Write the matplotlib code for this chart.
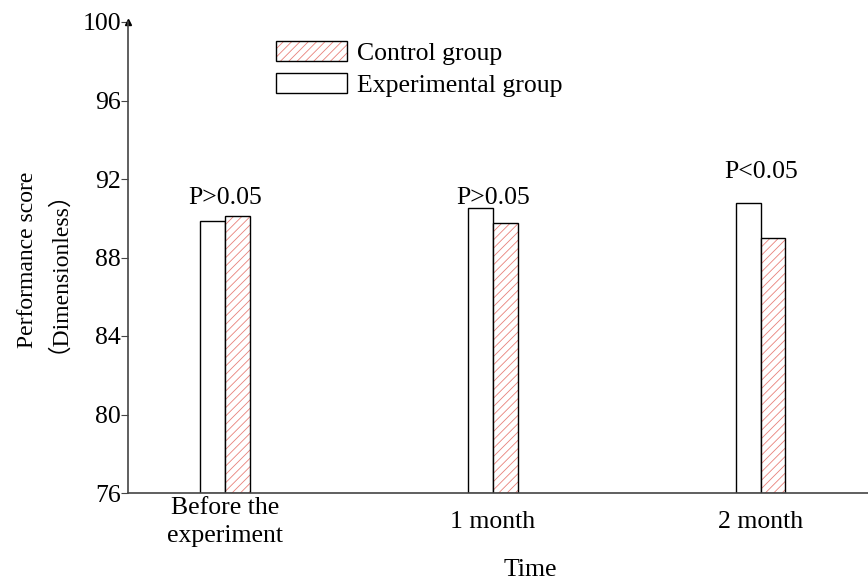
import numpy as np
import matplotlib
matplotlib.use("Agg")
import matplotlib.pyplot as plt
from matplotlib.legend_handler import HandlerTuple

plt.rcParams['font.family'] = ['Liberation Serif', 'Noto Sans CJK SC']
plt.rcParams['hatch.linewidth'] = 0.6

# data
times = ['Before the\nexperiment', '1 month', '2 month']
experimental = [89.86, 90.5, 90.77]
control = [90.13, 89.75, 88.99]
p_labels = ['P>0.05', 'P>0.05', 'P<0.05']
p_heights = [90.72, 90.72, 92.03]

hatch_col = '#e8807a'
fs = 18.5

fig = plt.figure(figsize=(8.68, 5.81), dpi=100)
ax = fig.add_axes([128 / 868, 88 / 581, 740 / 868, 471 / 581])

x = np.arange(len(times))
w = 0.092
base = 76

exp_bars = ax.bar(x - w / 2, np.array(experimental) - base, w, bottom=base,
                  color='white', edgecolor='black', linewidth=1.0)
ctrl_fill = ax.bar(x + w / 2, np.array(control) - base, w, bottom=base,
                   color='white', edgecolor=hatch_col, linewidth=0, hatch='////')
ctrl_edge = ax.bar(x + w / 2, np.array(control) - base, w, bottom=base,
                   fill=False, edgecolor='black', linewidth=1.0)

for xi, lab, h in zip(x, p_labels, p_heights):
    ax.text(xi, h, lab, ha='center', va='baseline', fontsize=fs)

ax.set_xlim(-0.362, 2.40)
ax.set_ylim(76, 100)
ax.set_yticks([76, 80, 84, 88, 92, 96, 100])
ax.set_xticks(x)
ax.set_xticklabels(times, fontsize=fs, linespacing=1.35)
for t in ax.get_xticklabels():
    t.set_verticalalignment('center')
ax.tick_params(axis='x', length=0, pad=21)
ax.tick_params(axis='y', direction='out', length=5, width=0.8, pad=0, labelsize=fs,
               color='#444444')

for s in ['top', 'right']:
    ax.spines[s].set_visible(False)
for s in ['left', 'bottom']:
    ax.spines[s].set_color('#444444')
    ax.spines[s].set_linewidth(1.2)

# arrow head on the y axis
ax.plot(0, 1, marker='^', color='black', markersize=5, transform=ax.transAxes,
        clip_on=False)

ax.set_ylabel('Performance score\n\uff08Dimensionless\uff09', fontsize=17,
              ha='center', va='center', multialignment='center', linespacing=0.8)
ax.yaxis.set_label_coords(-0.123, 0.495)
ax.set_xlabel('Time', fontsize=fs, va='center')
ax.xaxis.set_label_coords(0.543, -0.163)

ax.legend([(ctrl_fill[0], ctrl_edge[0]), exp_bars[0]],
          ['Control group', 'Experimental group'],
          handler_map={tuple: HandlerTuple(ndivide=1, pad=0)},
          loc='upper left', bbox_to_anchor=(276 / 868, 1 - 41 / 581),
          bbox_transform=fig.transFigure, frameon=False, fontsize=fs,
          handlelength=2.75, handleheight=0.85, handletextpad=0.4,
          labelspacing=0.3, borderpad=0, borderaxespad=0)

fig.savefig('out.png', dpi=100)
